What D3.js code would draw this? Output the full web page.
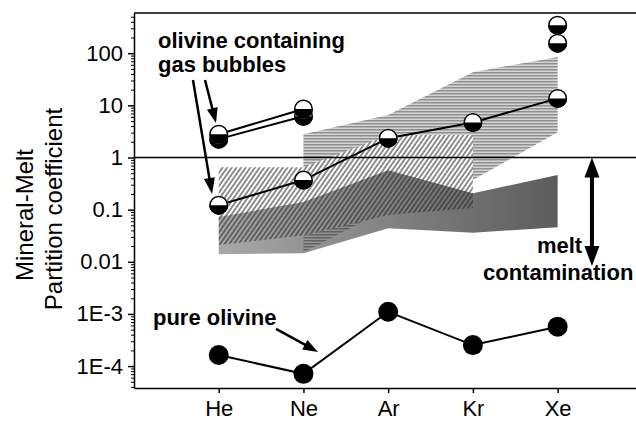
<!DOCTYPE html>
<html>
<head>
<meta charset="utf-8">
<script src="https://cdn.jsdelivr.net/npm/d3@7"></script>
<style>
  body { margin: 0; background: #fff; }
  svg { display: block; font-family: "Liberation Sans", Arial, sans-serif; }
</style>
</head>
<body>
<svg id="chart" width="636" height="422"></svg>
<script>
(function () {
	"use strict";

	// data
	var elements = ['He', 'Ne', 'Ar', 'Kr', 'Xe'];
	var pureOlivine = [1.63e-4, 7.1e-5, 1.1e-3, 2.53e-4, 5.7e-4];
	var bubbles = [0.122, 0.369, 2.35, 4.7, 13.6];
	var bubblesHighUpper = [2.8, 8.5];   // He, Ne
	var bubblesHighLower = [2.25, 6.2];  // He, Ne
	var xeHigh = [344, 156];

	var hatchTop = [0.65, 0.65, 2.7, 2.7];            // He..Kr
	var hatchBottom = [0.021, 0.032, 0.079, 0.107];
	var stripeTop = [2.8, 6.5, 43, 85];               // Ne..Xe
	var stripeBottom = [0.015, 0.106, 0.37, 3.06];
	var greyTop = [0.072, 0.14, 0.57, 0.206, 0.46];   // He..Xe
	var greyBottom = [0.014, 0.0146, 0.044, 0.036, 0.046];

	var yTicks = [1e-4, 1e-3, 0.01, 0.1, 1, 10, 100];
	var yTickLabels = ['1E-4', '1E-3', '0.01', '0.1', '1', '10', '100'];

	var svg = d3.select('#chart');
	var width = 636;

	var x = d3.scaleLinear().domain([0, 5.925]).range([134, 636]);
	var y = d3.scaleLog().domain([3.8e-5, 590]).range([388, 13]);

	var defs = svg.append('defs');

	var stripes = defs.append('pattern')
		.attr('id', 'stripes')
		.attr('patternUnits', 'userSpaceOnUse')
		.attr('width', 6)
		.attr('height', 3);
	stripes.append('rect')
		.attr('width', 6)
		.attr('height', 1.5)
		.attr('fill', 'rgba(0,0,0,0.32)');

	var hatch = defs.append('pattern')
		.attr('id', 'hatch')
		.attr('patternUnits', 'userSpaceOnUse')
		.attr('width', 3.8)
		.attr('height', 10)
		.attr('patternTransform', 'rotate(35)');
	hatch.append('line')
		.attr('x1', 1).attr('x2', 1)
		.attr('y1', 0).attr('y2', 10)
		.attr('stroke', '#222')
		.attr('stroke-width', 1);

	var grad = defs.append('linearGradient')
		.attr('id', 'greyGrad')
		.attr('gradientUnits', 'userSpaceOnUse')
		.attr('x1', x(1)).attr('x2', x(5))
		.attr('y1', 0).attr('y2', 0);
	grad.append('stop').attr('offset', 0).attr('stop-color', '#a8a8a8');
	grad.append('stop').attr('offset', 1).attr('stop-color', '#5c5c5c');

	function bandPoints(start, lo, hi) {
		return lo.map(function (v, i) {
			return { i: start + i, lo: v, hi: hi[i] };
		});
	}

	var area = d3.area()
		.x(function (d) { return x(d.i); })
		.y0(function (d) { return y(d.lo); })
		.y1(function (d) { return y(d.hi); });

	var hatchBand = bandPoints(1, hatchBottom, hatchTop);
	var stripeBand = bandPoints(2, stripeBottom, stripeTop);
	var greyBand = bandPoints(1, greyBottom, greyTop);

	var mask = defs.append('mask').attr('id', 'noHatch')
		.attr('maskUnits', 'userSpaceOnUse')
		.attr('x', 0).attr('y', 0).attr('width', 636).attr('height', 422);
	mask.append('rect').attr('width', 636).attr('height', 422).attr('fill', '#fff');
	mask.append('path').attr('d', area(hatchBand)).attr('fill', '#000');

	var bands = svg.append('g').classed('bands', true);

	bands.append('path').attr('d', area(stripeBand)).attr('fill', '#d4d4d4');
	bands.append('path').attr('d', area(hatchBand)).attr('fill', '#fff');
	bands.append('path').attr('d', area(greyBand)).attr('fill', 'url(#greyGrad)');
	bands.append('path').attr('d', area(hatchBand)).attr('fill', 'url(#hatch)');
	bands.append('path').attr('d', area(stripeBand)).attr('fill', 'url(#stripes)')
		.attr('mask', 'url(#noHatch)');

	// axes
	var yAxisMinor = [];
	d3.range(-5, 3).forEach(function (k) {
		d3.range(2, 10).forEach(function (m) {
			var v = m * Math.pow(10, k);
			if (v > y.domain()[0] && v < y.domain()[1]) yAxisMinor.push(v);
		});
	});

	svg.append('g')
		.attr('transform', 'translate(134,0)')
		.call(d3.axisLeft(y).tickValues(yAxisMinor).tickSize(3).tickFormat(''))
		.call(function (g) { g.select('.domain').remove(); })
		.selectAll('line').attr('stroke-width', 1);

	var yAxis = svg.append('g')
		.attr('transform', 'translate(134,0)')
		.call(d3.axisLeft(y).tickValues(yTicks).tickSize(6).tickSizeOuter(0).tickPadding(5)
			.tickFormat(function (d, i) { return yTickLabels[i]; }));
	yAxis.select('.domain').attr('stroke-width', 1.5);
	yAxis.selectAll('line').attr('stroke-width', 1.5);
	yAxis.selectAll('text').attr('font-size', 22).attr('fill', '#000')
		.attr('font-family', '"Liberation Sans", Arial, sans-serif');

	var xAxis = svg.append('g')
		.attr('transform', 'translate(0,388)')
		.call(d3.axisBottom(x).tickValues([1, 2, 3, 4, 5]).tickSize(5).tickSizeOuter(0).tickPadding(7)
			.tickFormat(function (d) { return elements[d - 1]; }));
	xAxis.select('.domain').attr('stroke-width', 1.5);
	xAxis.selectAll('line').attr('stroke-width', 1.5);
	xAxis.selectAll('text').attr('font-size', 22).attr('fill', '#000')
		.attr('font-family', '"Liberation Sans", Arial, sans-serif');

	svg.append('line')
		.attr('x1', 134).attr('x2', width)
		.attr('y1', y.range()[1]).attr('y2', y.range()[1])
		.attr('stroke', '#000').attr('stroke-width', 1.5);

	// reference line at K = 1
	svg.append('line')
		.attr('x1', 134).attr('x2', width)
		.attr('y1', y(1)).attr('y2', y(1))
		.attr('stroke', '#000').attr('stroke-width', 1.5);

	// series
	var line = d3.line()
		.x(function (d, i) { return x(i + 1); })
		.y(function (d) { return y(d); });

	var series = svg.append('g').classed('series', true);

	[bubblesHighLower, bubblesHighUpper].forEach(function (s) {
		series.append('path').attr('d', line(s))
			.attr('fill', 'none').attr('stroke', '#000').attr('stroke-width', 2);
	});
	series.append('path').attr('d', line(bubbles))
		.attr('fill', 'none').attr('stroke', '#000').attr('stroke-width', 2);
	series.append('path').attr('d', line(pureOlivine))
		.attr('fill', 'none').attr('stroke', '#000').attr('stroke-width', 2);

	var r = 9.5;
	var lowerHalf = d3.arc()({ innerRadius: 0, outerRadius: r, startAngle: Math.PI / 2, endAngle: 3 * Math.PI / 2 });

	function halfDots(values, xpos) {
		var g = series.selectAll(null)
			.data(values)
			.enter()
			.append('g')
			.attr('transform', function (d, i) {
				return 'translate(' + x(xpos(i)) + ',' + y(d) + ')';
			});
		g.append('circle').attr('r', r).attr('fill', '#fff');
		g.append('path').attr('d', lowerHalf).attr('fill', '#000');
		g.append('circle').attr('r', r - 0.75).attr('fill', 'none')
			.attr('stroke', '#000').attr('stroke-width', 1.5);
	}

	halfDots(bubblesHighLower, function (i) { return i + 1; });
	halfDots(bubblesHighUpper, function (i) { return i + 1; });
	halfDots(xeHigh, function () { return 5; });
	halfDots(bubbles, function (i) { return i + 1; });

	series.selectAll(null)
		.data(pureOlivine)
		.enter()
		.append('circle')
		.attr('cx', function (d, i) { return x(i + 1); })
		.attr('cy', function (d) { return y(d); })
		.attr('r', 10)
		.attr('fill', '#000');

	// annotations
	var notes = svg.append('g').classed('notes', true);

	function arrow(p0, p1, strokeW, headLen, headW) {
		var x0 = x(p0[0]), y0 = y(p0[1]), x1 = x(p1[0]), y1 = y(p1[1]);
		var dx = x1 - x0, dy = y1 - y0, len = Math.sqrt(dx * dx + dy * dy);
		var ux = dx / len, uy = dy / len;
		var bx = x1 - ux * headLen, by = y1 - uy * headLen;
		notes.append('line')
			.attr('x1', x0).attr('y1', y0)
			.attr('x2', bx + ux * 2).attr('y2', by + uy * 2)
			.attr('stroke', '#000').attr('stroke-width', strokeW);
		notes.append('path')
			.attr('d', 'M' + x1 + ',' + y1 +
				'L' + (bx - uy * headW / 2) + ',' + (by + ux * headW / 2) +
				'L' + (bx + uy * headW / 2) + ',' + (by - ux * headW / 2) + 'Z')
			.attr('fill', '#000');
	}

	arrow([0.838, 30.6], [0.968, 4.59], 2.5, 15, 11);
	arrow([0.696, 30.6], [0.921, 0.2], 2.5, 16, 11);
	arrow([1.676, 5.15e-4], [2.172, 1.87e-4], 2.5, 15, 11);
	arrow([5.405, 0.09], [5.405, 1], 4, 20, 15);
	arrow([5.405, 0.09], [5.405, 0.0083], 4, 20, 15);

	var labels = [
		{ text: 'olivine containing', at: [0.283, 126] },
		{ text: 'gas bubbles', at: [0.283, 43.6] },
		{ text: 'pure olivine', at: [0.224, 6.1e-4] },
		{ text: 'melt', at: [4.756, 0.0148] },
		{ text: 'contamination', at: [4.119, 0.00448] }
	];

	notes.selectAll(null)
		.data(labels)
		.enter()
		.append('text')
		.attr('x', function (d) { return x(d.at[0]); })
		.attr('y', function (d) { return y(d.at[1]); })
		.attr('font-size', 22)
		.attr('font-weight', 'bold')
		.text(function (d) { return d.text; });

	// y axis title
	var title = svg.append('g').classed('y-title', true);
	title.append('text')
		.attr('transform', 'translate(33,215) rotate(-90)')
		.attr('text-anchor', 'middle')
		.attr('font-size', 24)
		.text('Mineral-Melt');
	title.append('text')
		.attr('transform', 'translate(62,209) rotate(-90)')
		.attr('text-anchor', 'middle')
		.attr('font-size', 24)
		.text('Partition coefficient');
}());
</script>
</body>
</html>
